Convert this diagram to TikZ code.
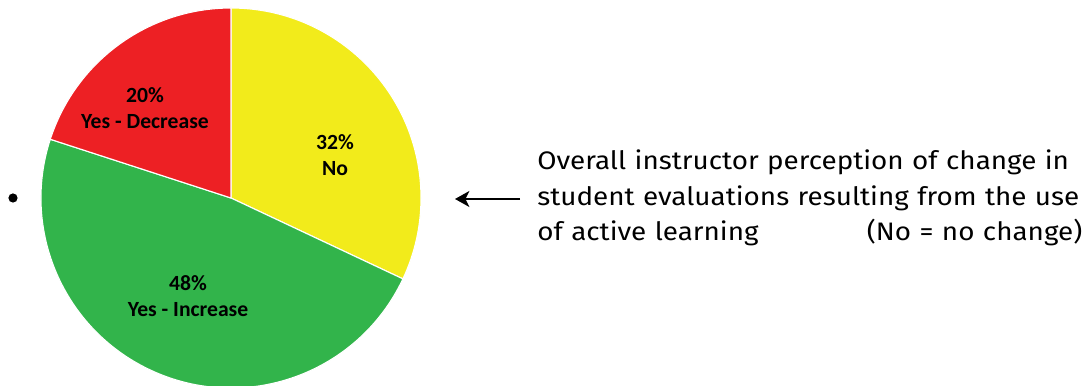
\documentclass[tikz,border=0pt]{standalone}
\usepackage{fontspec}
\setmainfont{Fira Sans}[FakeStretch=1.1]
\newfontfamily\carlito{Carlito}
\usetikzlibrary{arrows.meta}

\definecolor{pieyellow}{RGB}{242,235,27}
\definecolor{piegreen}{RGB}{50,180,75}
\definecolor{piered}{RGB}{237,32,36}

\begin{document}
\begin{tikzpicture}[
	slice/.style={draw=white, line width=0.8pt},
	pielabel/.style={font=\carlito\bfseries\fontsize{15.4}{18.5}\selectfont, align=center},
	]
	\useasboundingbox (-5.775,-4.7) rectangle (21.4,4.95);

	\coordinate (c) at (0,0);
	\foreach \from / \to / \col in {
	90/-25.2/pieyellow,
	-25.2/-198/piegreen,
	-198/-270/piered}
	{
		\filldraw[slice, fill=\col] (c) -- ++(\from:4.75)
			arc[start angle=\from, end angle=\to, radius=4.75] -- cycle;
	};

	\node[pielabel] (no) at (2.6, 1.075) {32\%\\No};
	\node[pielabel] (inc) at (-1.075, -2.45) {48\%\\Yes - Increase};
	\node[pielabel] (dec) at (-2.15, 2.25) {20\%\\Yes - Decrease};

	\node (dot) at (-5.45, 0.0) {};
	\fill (dot) circle [radius=0.115];

	\coordinate (tip) at (5.6, -0.025);
	\node[anchor=west, inner xsep=0.425cm, text width=13.625cm, align=left,
		font=\fontsize{18}{25.2}\selectfont] (caption) at (7.225, 0.0)
		{Overall instructor perception of change in\\
		student evaluations resulting from the use\\
		of active learning\hspace{\stretch{1}}(No = no change)};

	\draw[line width=1.3pt, -{Stealth[length=0.36cm, width=0.4cm, inset=0.1cm]}]
		(caption.west |- tip) -- (tip);
\end{tikzpicture}
\end{document}
